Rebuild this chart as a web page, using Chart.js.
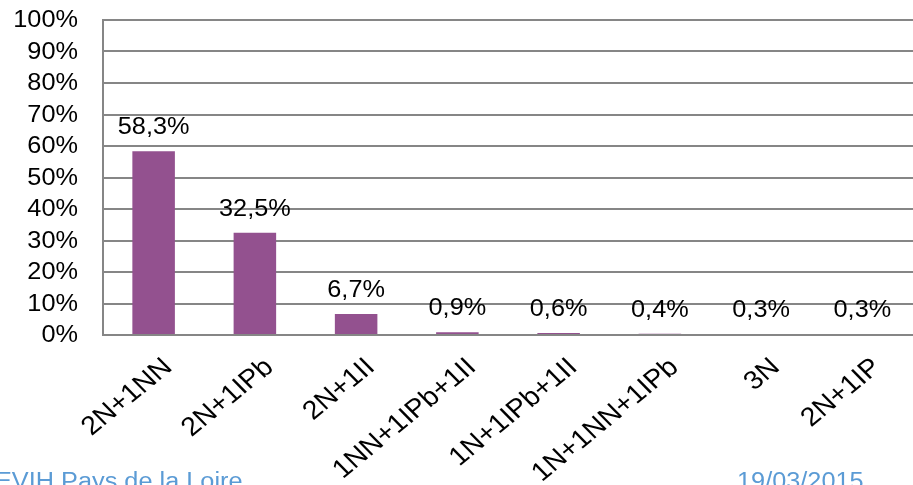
<!DOCTYPE html>
<html>
<head>
<meta charset="utf-8">
<script src="https://cdn.jsdelivr.net/npm/chart.js@4/dist/chart.umd.min.js"></script>
<style>
  body { margin: 0; background: #fff; }
  #wrap { width: 913px; height: 485px; overflow: hidden; }
</style>
</head>
<body>
<div id="wrap"><canvas id="chart" width="913" height="485"></canvas></div>
<script>
const categories = ["2N+1NN", "2N+1IPb", "2N+1II", "1NN+1IPb+1II", "1N+1IPb+1II", "1N+1NN+1IPb", "3N", "2N+1IP"];
const values = [58.3, 32.5, 6.7, 0.9, 0.6, 0.4, 0.3, 0.3];
const yTicks = [0, 10, 20, 30, 40, 50, 60, 70, 80, 90, 100];
const footerLeft = "EVIH Pays de la Loire";
const footerRight = "19/03/2015";

const font = "'Liberation Sans', Arial, sans-serif";
const stretch = 1.1; // the original slide text is a bit wide

function fmt(v) {
    return v.toFixed(1).replace(".", ",") + "%";
}

function wideText(ctx, text, x, y, align, baseline, angle) {
    ctx.save();
    ctx.translate(x, y);
    ctx.scale(stretch, 1);
    if (angle) ctx.rotate(angle);
    ctx.textAlign = align;
    ctx.textBaseline = baseline;
    ctx.fillText(text, 0, 0);
    ctx.restore();
}

// tick labels, value labels and footer, all drawn slightly stretched
const texts = {
    id: "texts",
    afterDraw(chart) {
        const ctx = chart.ctx;
        const xs = chart.scales.x;
        const ys = chart.scales.y;
        const meta = chart.getDatasetMeta(0);
        ctx.save();
        ctx.fillStyle = "#000";

        ctx.font = "23px " + font;
        yTicks.forEach(v => {
            wideText(ctx, v + "%", ys.right - 25, ys.getPixelForValue(v) + 1, "right", "middle");
        });

        meta.data.forEach((bar, i) => {
            wideText(ctx, fmt(values[i]), bar.x, bar.y - 17, "center", "alphabetic");
        });

        ctx.font = "26px " + font;
        categories.forEach((c, i) => {
            wideText(ctx, c, xs.getPixelForTick(i) + 20, xs.top + 34, "right", "alphabetic", -42 * Math.PI / 180);
        });

        ctx.font = "23px " + font;
        ctx.fillStyle = "#5b9bd5";
        wideText(ctx, footerLeft, -5, 489, "left", "alphabetic");
        wideText(ctx, footerRight, 737, 489, "left", "alphabetic");
        ctx.restore();
    }
};

function noPad(scale) {
    scale.paddingTop = 0;
    scale.paddingBottom = 0;
    scale.paddingLeft = 0;
    scale.paddingRight = 0;
}

new Chart(document.getElementById("chart").getContext("2d"), {
    type: "bar",
    data: {
        labels: categories,
        datasets: [{
            data: values,
            backgroundColor: "#93518f",
            barPercentage: 0.42,
            categoryPercentage: 1
        }]
    },
    options: {
        responsive: false,
        animation: false,
        layout: { padding: { top: 20, right: 0, left: 0, bottom: 0 } },
        plugins: {
            legend: { display: false },
            tooltip: { enabled: false }
        },
        scales: {
            x: {
                grid: { display: false, drawTicks: false },
                border: { color: "#868686", width: 2 },
                ticks: { display: false },
                afterFit(scale) { noPad(scale); scale.height = 150; }
            },
            y: {
                min: 0,
                max: 100,
                grid: { color: "#868686", lineWidth: 2, drawTicks: false },
                border: { color: "#868686", width: 2 },
                ticks: { display: false, stepSize: 10, autoSkip: false },
                afterFit(scale) { noPad(scale); scale.width = 103; }
            }
        }
    },
    plugins: [texts]
});
</script>
</body>
</html>
